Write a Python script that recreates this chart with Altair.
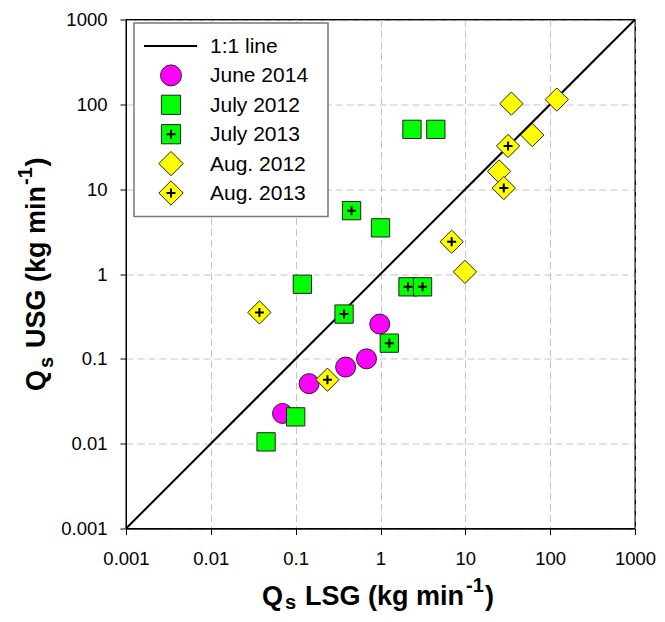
import altair as alt
import pandas as pd

# ---- data ----
june14_x = [0.070, 0.144, 0.388, 0.684, 0.98]
june14_y = [0.0227, 0.051, 0.080, 0.100, 0.257]
july12_x = [0.0448, 0.100, 0.120, 1.00, 2.35, 4.49]
july12_y = [0.0105, 0.0207, 0.757, 3.5, 50.7, 50.7]
july13_x = [0.456, 0.372, 1.27, 2.11, 3.13]
july13_y = [5.58, 0.337, 0.153, 0.706, 0.706]
aug12_x = [34.9, 119.7, 61.5, 25.0, 9.9]
aug12_y = [102, 113.8, 43.4, 16.2, 1.06]
aug13_x = [31.9, 28.4, 6.9, 0.0374, 0.237]
aug13_y = [32.3, 10.3, 2.4, 0.352, 0.0568]
line_x = [0.001, 1000]
line_y = [0.001, 1000]
tick_values = [0.001, 0.01, 0.1, 1, 10, 100, 1000]
legend_labels = ["1:1 line", "June 2014", "July 2012", "July 2013", "Aug. 2012", "Aug. 2013"]

series = [
    ("June 2014", june14_x, june14_y),
    ("July 2012", july12_x, july12_y),
    ("July 2013", july13_x, july13_y),
    ("Aug. 2012", aug12_x, aug12_y),
    ("Aug. 2013", aug13_x, aug13_y),
]
rows = []
for name, xs_, ys_ in series:
    for a, b in zip(xs_, ys_):
        rows.append({"series": name, "x": a, "y": b})
df = pd.DataFrame(rows)
line_df = pd.DataFrame({"x": line_x, "y": line_y})

W = H = 509
FONT = "Liberation Sans"

axis_common = dict(
    title=None, values=tick_values, format="~g", labelFont=FONT, labelFontSize=18.5,
    labelColor="black", tickColor="black", tickSize=6, tickWidth=1, domainColor="black",
    domainWidth=1, grid=True, gridColor="#c4c4c4", gridDash=[7, 4], gridWidth=1,
    labelFlush=False, labelOverlap=False,
)
X = alt.X("x:Q", scale=alt.Scale(type="log", domain=[0.001, 1000], nice=False),
          axis=alt.Axis(labelPadding=15, **axis_common))
Y = alt.Y("y:Q", scale=alt.Scale(type="log", domain=[0.001, 1000], nice=False),
          axis=alt.Axis(labelPadding=13, **axis_common))

STROKE = "#222222"
style = {
    "June 2014": dict(shape="circle", fill="#ff00ff", size=400, plus=False),
    "July 2012": dict(shape="square", fill="#00ff00", size=335, plus=False),
    "July 2013": dict(shape="square", fill="#00ff00", size=335, plus=True),
    "Aug. 2012": dict(shape="diamond", fill="#ffff00", size=540, plus=False),
    "Aug. 2013": dict(shape="diamond", fill="#ffff00", size=540, plus=True),
}
PLUS = "M-1,0L1,0M0,-1L0,1"

one = alt.Data(values=[{}])

layers = [alt.Chart(line_df).mark_line(color="black", strokeWidth=2).encode(X, Y)]
for name in ["June 2014", "July 2012", "July 2013", "Aug. 2012", "Aug. 2013"]:
    s = style[name]
    base = alt.Chart(df).transform_filter(alt.datum.series == name)
    layers.append(base.mark_point(shape=s["shape"], filled=True, fill=s["fill"], stroke=STROKE,
                                  strokeWidth=1, size=s["size"], opacity=1).encode(X, Y))
    if s["plus"]:
        layers.append(base.mark_point(shape=PLUS, filled=False, stroke="black", strokeWidth=2,
                                      size=81, opacity=1).encode(X, Y))

# frame of the plot area, drawn above the grid
layers.append(alt.Chart(one).mark_rect(fill="transparent", stroke="black", strokeWidth=1).encode(
    x=alt.value(0), x2=alt.value(W), y=alt.value(0), y2=alt.value(H)))

# ---- legend (manual) ----
layers.append(alt.Chart(one).mark_rect(fill="white", stroke="#777777", strokeWidth=1.5).encode(
    x=alt.value(8), x2=alt.value(202), y=alt.value(3.5), y2=alt.value(197)))
row_y = [26.5 + i * 29.4 for i in range(6)]
layers.append(alt.Chart(one).mark_rule(color="black", strokeWidth=2).encode(
    x=alt.value(18), x2=alt.value(71), y=alt.value(row_y[0])))
for i, name in enumerate(legend_labels[1:], start=1):
    s = style[name]
    layers.append(alt.Chart(one).mark_point(shape=s["shape"], filled=True, fill=s["fill"], stroke=STROKE,
                                            strokeWidth=1, size=s["size"] * 1.1, opacity=1).encode(
        x=alt.value(45), y=alt.value(row_y[i])))
    if s["plus"]:
        layers.append(alt.Chart(one).mark_point(shape=PLUS, filled=False, stroke="black", strokeWidth=2,
                                                size=81, opacity=1).encode(
            x=alt.value(45), y=alt.value(row_y[i])))
for i, lab in enumerate(legend_labels):
    layers.append(alt.Chart(one).mark_text(text=lab, align="left", baseline="middle", font=FONT,
                                           fontSize=21, color="black").encode(
        x=alt.value(84), y=alt.value(row_y[i] + 1)))

# ---- axis titles with sub/superscripts ----
def txt(t, x, y, size, angle=0):
    return alt.Chart(one).mark_text(text=t, align="left", baseline="alphabetic", font=FONT,
                                    fontWeight="bold", fontSize=size, color="black", angle=angle).encode(
        x=alt.value(x), y=alt.value(y))

layers += [
    txt("Q", 136, 585.5, 27), txt("s", 159, 589.5, 20), txt("LSG (kg min", 179, 585.5, 27),
    txt("-1", 340, 572.5, 20), txt(")", 359, 585.5, 27),
    txt("Q", -81, 371.5, 27, 270), txt("s", -73, 348.5, 20, 270), txt("USG (kg min", -81, 328.5, 27, 270),
    txt("-1", -94, 165.5, 20, 270), txt(")", -81, 147, 27, 270),
]

chart = alt.layer(*layers).properties(
    width=W, height=H,
    autosize=alt.AutoSizeParams(type="none"),
    padding={"left": 118, "top": 11.5, "right": 22, "bottom": 85.5},
).configure_view(stroke="black", strokeWidth=1)

chart.save("out.html", embed_options={"renderer": "svg", "actions": False})
